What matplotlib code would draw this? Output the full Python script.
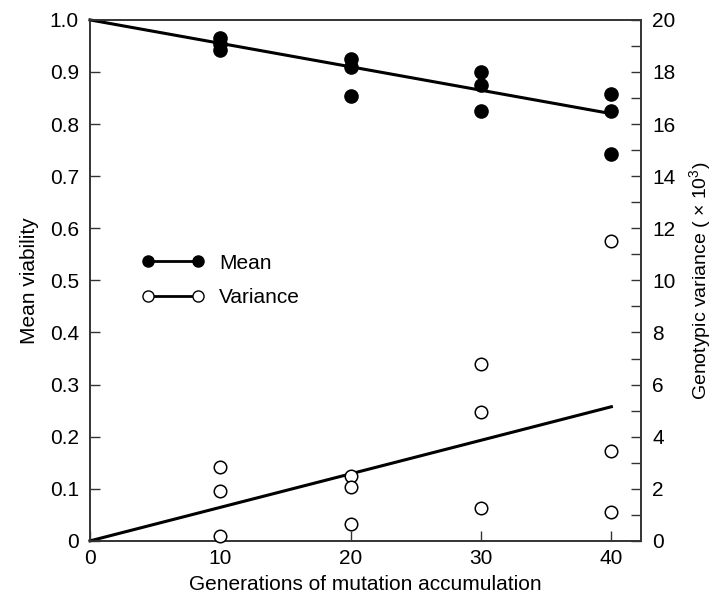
import numpy as np
import matplotlib
matplotlib.use('Agg')
from matplotlib import pyplot as plt
from matplotlib.lines import Line2D
from matplotlib.ticker import MultipleLocator, FuncFormatter

plt.rcParams['font.family'] = ['Liberation Sans', 'DejaVu Sans']
plt.rcParams['mathtext.fontset'] = 'custom'
plt.rcParams['mathtext.rm'] = 'Liberation Sans'

# data
gens = [10, 20, 30, 40]
mean_pts = [[0.965, 0.953, 0.942],
            [0.925, 0.910, 0.853],
            [0.900, 0.875, 0.825],
            [0.857, 0.825, 0.742]]
var_pts = [[2.85, 1.92, 0.20],
           [2.50, 2.07, 0.65],
           [6.80, 4.95, 1.27],
           [11.5, 3.45, 1.11]]
mean_fit_x = [0, 40]
mean_fit_y = [1.0, 0.82]
var_fit_x = [0, 40]
var_fit_y = [0.0, 5.15]

fig = plt.figure(figsize=(7.17, 6.03), dpi=100)
ax = fig.add_axes([0.1255, 0.103, 0.769, 0.864])
ax2 = ax.twinx()

ms = 9.5
for g, vals in zip(gens, mean_pts):
    ax.plot([g] * len(vals), vals, 'o', color='black', ms=ms, zorder=3, clip_on=False)
ax.plot(mean_fit_x, mean_fit_y, color='black', lw=2.2, clip_on=False)

for g, vals in zip(gens, var_pts):
    ax2.plot([g] * len(vals), vals, 'o', mfc='white', mec='black', mew=1.1, ms=ms - 0.5,
             zorder=3, clip_on=False)
ax2.plot(var_fit_x, var_fit_y, color='black', lw=2.2, clip_on=False)

ax.set_xlim(0, 42.3)
ax.set_ylim(0, 1.0)
ax2.set_ylim(0, 20)

ax.set_xticks([0, 10, 20, 30, 40])
ax.yaxis.set_major_locator(MultipleLocator(0.1))
ax.yaxis.set_major_formatter(FuncFormatter(lambda v, p: '0' if abs(v) < 1e-9 else f'{v:.1f}'))
ax2.yaxis.set_major_locator(MultipleLocator(2))
ax2.yaxis.set_minor_locator(MultipleLocator(1))

fs = 15
edge = '#333333'
ax.tick_params(axis='both', direction='in', length=7, width=1, labelsize=fs, pad=8, color=edge)
ax.tick_params(axis='x', pad=6)
ax2.tick_params(axis='y', which='both', direction='in', length=7, width=1, labelsize=fs, pad=8,
                color=edge)
for a in (ax, ax2):
    for s in a.spines.values():
        s.set_linewidth(1.2)
        s.set_color(edge)

ax.set_xlabel('Generations of mutation accumulation', fontsize=fs, labelpad=5)
ax.set_ylabel('Mean viability', fontsize=fs, labelpad=8)
ax2.set_ylabel('Genotypic variance ( × 10$^3$)', fontsize=14, labelpad=8)

handles = [Line2D([], [], color='black', lw=2, marker='o', ms=8, mfc='black', mec='black'),
           Line2D([], [], color='black', lw=2, marker='o', ms=8, mfc='white', mec='black')]
ax.legend(handles, ['Mean', 'Variance'], numpoints=2, frameon=False, fontsize=fs,
          handlelength=3.0, handletextpad=0.7, labelspacing=0.75,
          loc='center left', bbox_to_anchor=(0.06, 0.50))

fig.savefig('out.png', dpi=100)
